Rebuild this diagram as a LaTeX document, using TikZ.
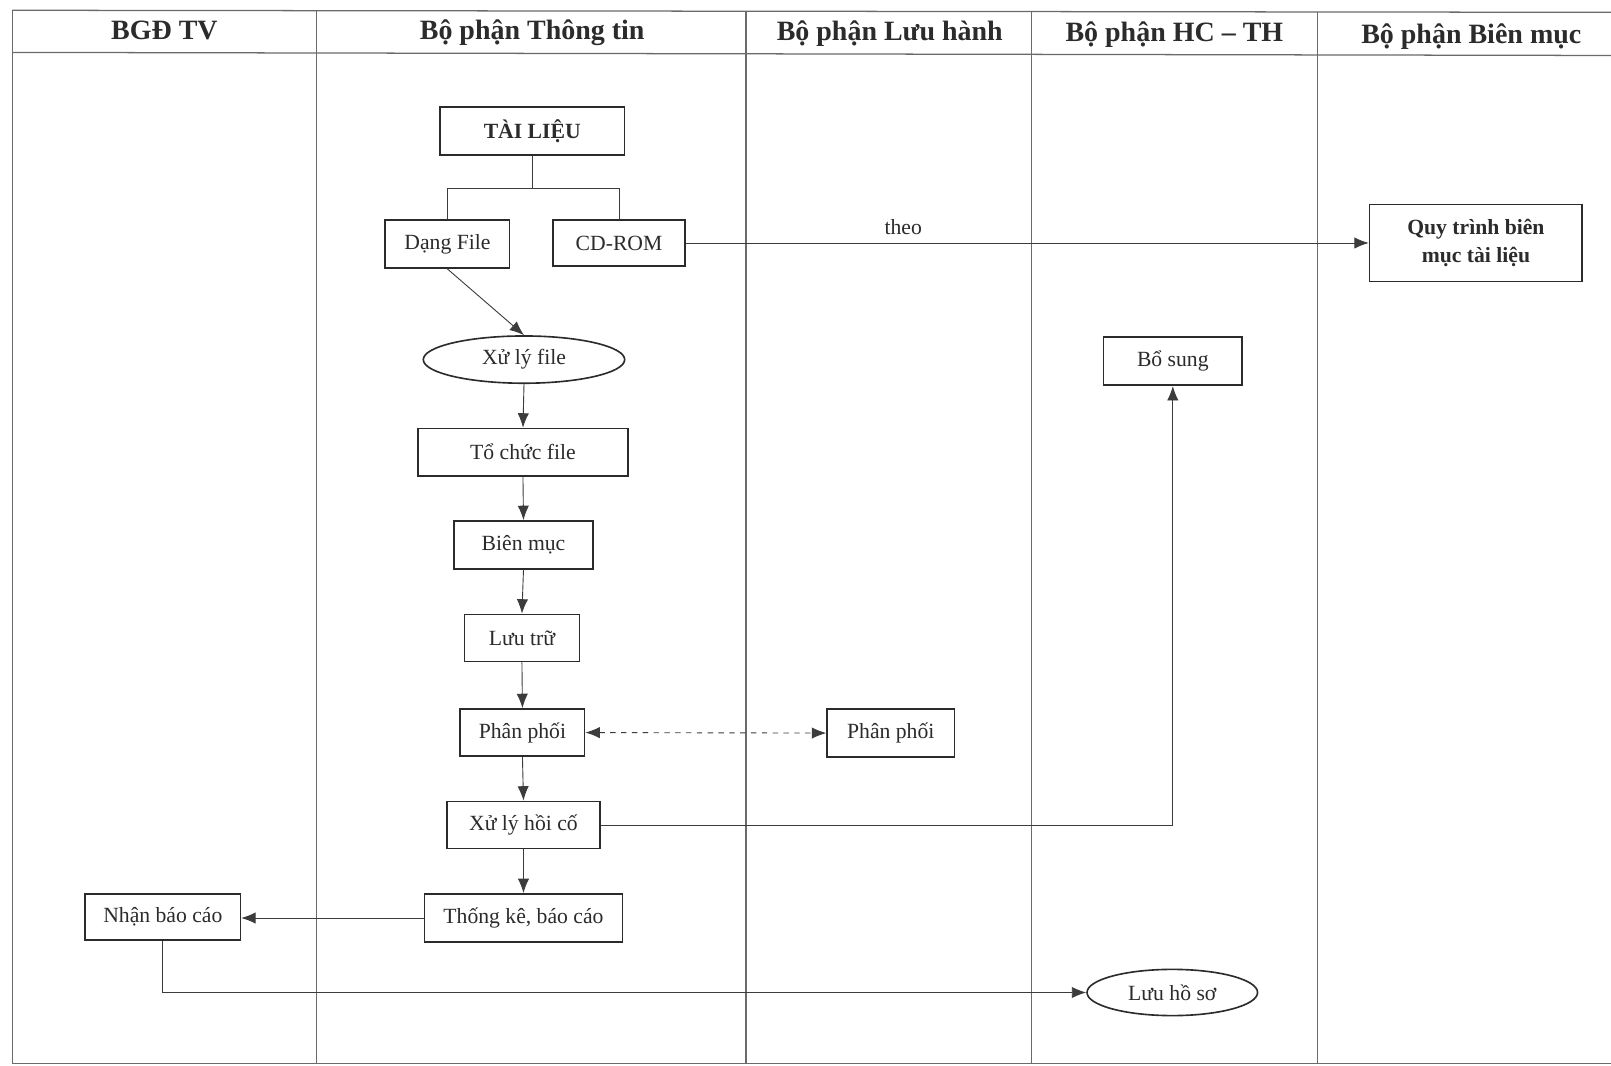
\documentclass[tikz,border=0pt]{standalone}
\usepackage{fontspec}
\setmainfont{Liberation Serif}
\usetikzlibrary{arrows.meta,shapes.geometric}
\definecolor{ink}{HTML}{2B2B2B}
\definecolor{wire}{HTML}{3C3C3C}
\definecolor{rule}{HTML}{6A6A6A}
\begin{document}
\begin{tikzpicture}[x=0.02cm,y=-0.02cm,
  sz/.style 2 args={minimum width=#1*0.02cm, minimum height=#2*0.02cm},
  box/.style={draw=ink, line width=0.9pt, fill=white, inner sep=0pt, text=ink,
    font=\fontsize{12}{14}\selectfont},
  boldbox/.style={box, font=\fontsize{12}{15}\selectfont\bfseries, align=center},
  oval/.style={box, ellipse},
  tip/.tip={Latex[length=0.28cm,width=0.22cm]},
  flow/.style={draw=wire, line width=0.5pt, -tip},
  link/.style={draw=wire, line width=0.5pt},
  lane/.style={draw=rule, line width=0.7pt},
  head/.style={text=ink, font=\fontsize{15.5}{18}\selectfont\bfseries}]

% page area
\useasboundingbox (0,0) rectangle (1568,1037);
\fill[white] (0,0) rectangle (1568,1037);

% swimlane frame
\draw[lane] (12,10) -- (1568,12);
\draw[lane] (12,51) -- (1568,54);
\draw[lane] (12,1035) -- (1568,1035);
\draw[lane] (12,10) -- (12,1035);
\draw[lane] (308,10) -- (308,1035);
\draw[lane] (726,11) -- (726,1035);
\draw[lane] (1004,11) -- (1004,1035);
\draw[lane] (1282,12) -- (1282,1035);

% lane titles
\node[head] (h1) at (160,30) {BGĐ TV};
\node[head] (h2) at (518,32) {Bộ phận Thông tin};
\node[head] (h3) at (866,33) {Bộ phận Lưu hành};
\node[head] (h4) at (1143,34) {Bộ phận HC – TH};
\node[head] (h5) at (1432,36) {Bộ phận Biên mục};

% process steps
\node[boldbox, sz={180}{47}] (tl) at (518,127.5) {TÀI LIỆU};
\node[box, sz={121}{47}] (df) at (435.5,237.5) {Dạng File};
\node[box, sz={129}{45}] (cd) at (602.5,236.5) {CD-ROM};
\node[oval, sz={196}{46}] (xf) at (510,350) {Xử lý file};
\node[box, sz={204}{46}] (tc) at (509,440) {Tổ chức file};
\node[box, sz={135}{47}] (bm) at (509.5,530.5) {Biên mục};
\node[box, sz={112}{46}] (lt) at (508,621) {Lưu trữ};
\node[box, sz={121}{46}] (pp1) at (508.5,713) {Phân phối};
\node[box, sz={124}{47}] (pp2) at (867,713.5) {Phân phối};
\node[box, sz={149}{46}] (xh) at (509.5,803) {Xử lý hồi cố};
\node[box, sz={193}{47}] (tk) at (509.5,893.5) {Thống kê, báo cáo};
\node[box, sz={151}{45}] (nb) at (158.5,892.5) {Nhận báo cáo};
\node[oval, sz={166}{45}] (lh) at (1141,966) {Lưu hồ sơ};
\node[box, sz={135}{47}] (bs) at (1141.5,351.5) {Bổ sung};
\node[boldbox, sz={207}{75}] (qt) at (1436.5,236.5) {Quy trình biên\\mục tài liệu};

% branching of the source document
\coordinate (split) at (518,183);
\draw[link] (tl.south) -- (split);
\draw[link] (df.north) |- (split) -| (cd.north);

% connectors
\draw[flow] (cd.east) -- node[pos=0.318, above=0.16cm, inner sep=0pt, text=ink,
  font=\fontsize{12}{14}\selectfont] {theo} (qt.west);
\draw[flow] (df.south) -- (xf.north);
\draw[flow] (xf.south) -- (tc.north);
\draw[flow] (tc.south) -- (bm.north);
\draw[flow] (bm.south) -- (lt.north);
\draw[flow] (lt.south) -- (pp1.north);
\draw[flow, dashed, tip-tip] (pp1.east) -- (pp2.west);
\draw[flow] (pp1.south) -- (xh.north);
\draw[flow] (xh.south) -- (tk.north);
\draw[flow] (xh.east) -| (bs.south);
\draw[flow] (tk.west) -- (tk.west -| nb.east);
\draw[flow] (nb.south) |- (lh.west);
\end{tikzpicture}
\end{document}
